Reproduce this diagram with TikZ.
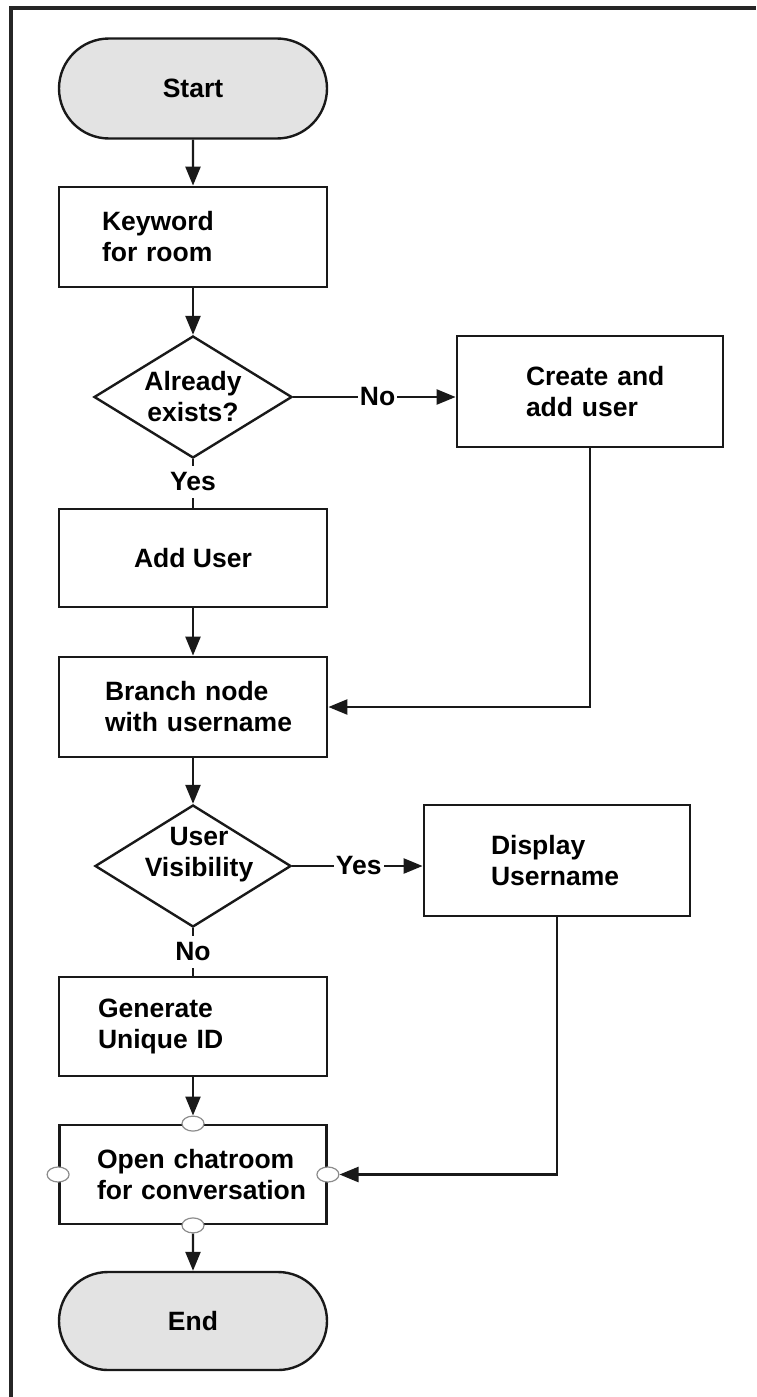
\documentclass[tikz,border=0pt]{standalone}
\usepackage{fontspec}
\setmainfont{Liberation Sans}
\usetikzlibrary{arrows.meta,shapes.geometric,shapes.misc}
\begin{document}
\begin{tikzpicture}[x=1pt,y=-1pt,
  font=\fontsize{26.5}{31}\selectfont\bfseries,
  ln/.style={line width=2.4pt, draw=black!90},
  box/.style={draw=black!90, line width=2.8pt, rectangle, minimum width=268pt, minimum height=100pt, inner sep=0pt, align=left},
  term/.style={draw=black!90, rounded rectangle, fill=black!11, line width=2.4pt, minimum width=268pt, minimum height=100pt, inner sep=0pt},
  dec/.style={draw=black!90, diamond, line width=2.4pt, minimum width=198pt, minimum height=122pt, inner sep=0pt},
  port/.style={ellipse, draw=black!45, fill=white, line width=1.2pt, minimum width=22pt, minimum height=15pt, inner sep=0pt},
  arr/.style={ln, -{Triangle[length=19pt,width=15pt]}},
  lbl/.style={fill=white, inner xsep=2pt, inner ysep=7pt}
]
\useasboundingbox (0,0) rectangle (756,1397);
% frame
\draw[line width=4pt, draw=black!85] (10.5,1397) -- (10.5,8) -- (756,8);

% nodes
\node[term] (start) at (193,88.5) {Start};
\node[box, text width=182pt] (kw) at (193,237) {\mbox{Keyword}\\\mbox{for room}};
\node[dec, label={[align=center]center:{Already\\exists?}}] (d1) at (193,397) {};
\node[box, minimum width=266pt, minimum height=111pt, text width=128pt] (create) at (590,391.5) {\mbox{Create and}\\\mbox{add user}};
\node[box, minimum height=98pt, align=center] (add) at (193,558) {\mbox{Add User}};
\node[box, text width=176pt] (branch) at (193,707) {\mbox{Branch node}\\\mbox{with username}};
\node[dec, minimum width=196pt, label={[align=center, yshift=11pt, xshift=6pt]center:{User\\Visibility}}] (d2) at (193,866) {};
\node[box, minimum width=266pt, minimum height=111pt, text width=132pt] (disp) at (557,860.5) {\mbox{Display}\\\mbox{Username}};
\node[box, minimum height=99pt, text width=190pt] (gen) at (193,1026.5) {\mbox{Generate}\\\mbox{Unique ID}};
\node[box, minimum width=267pt, minimum height=99pt, text width=192pt] (open) at (193,1174.5) {\mbox{Open chatroom}\\\mbox{for conversation}};
\node[term, minimum height=98pt] (end) at (193,1321) {End};

% connection points on the chatroom box
\node[port] (ot) at (open.north) {};
\node[port] (ob) at (open.south) {};
\node[port] (ow) at (open.west) {};
\node[port] (oe) at (open.east) {};

% connectors
\draw[arr] (start) -- (kw);
\draw[arr] (kw) -- (d1);
\draw[arr] (d1.east) -- node[lbl, pos=0.52] {No} (d1.east -| create.west);
\draw[ln] (d1.south) -- node[lbl, pos=0.47] {Yes} (add.north);
\draw[arr] (add) -- (branch);
\draw[arr] (create.south) |- (branch.east);
\draw[arr] (branch) -- (d2);
\draw[arr] (d2.east) -- node[lbl, pos=0.51] {Yes} (d2.east -| disp.west);
\draw[ln] (d2.south) -- node[lbl, pos=0.5] {No} (gen.north);
\draw[arr] (gen) -- (ot);
\draw[arr] (disp.south) |- (oe.east);
\draw[arr] (ob) -- (end);
\end{tikzpicture}
\end{document}
